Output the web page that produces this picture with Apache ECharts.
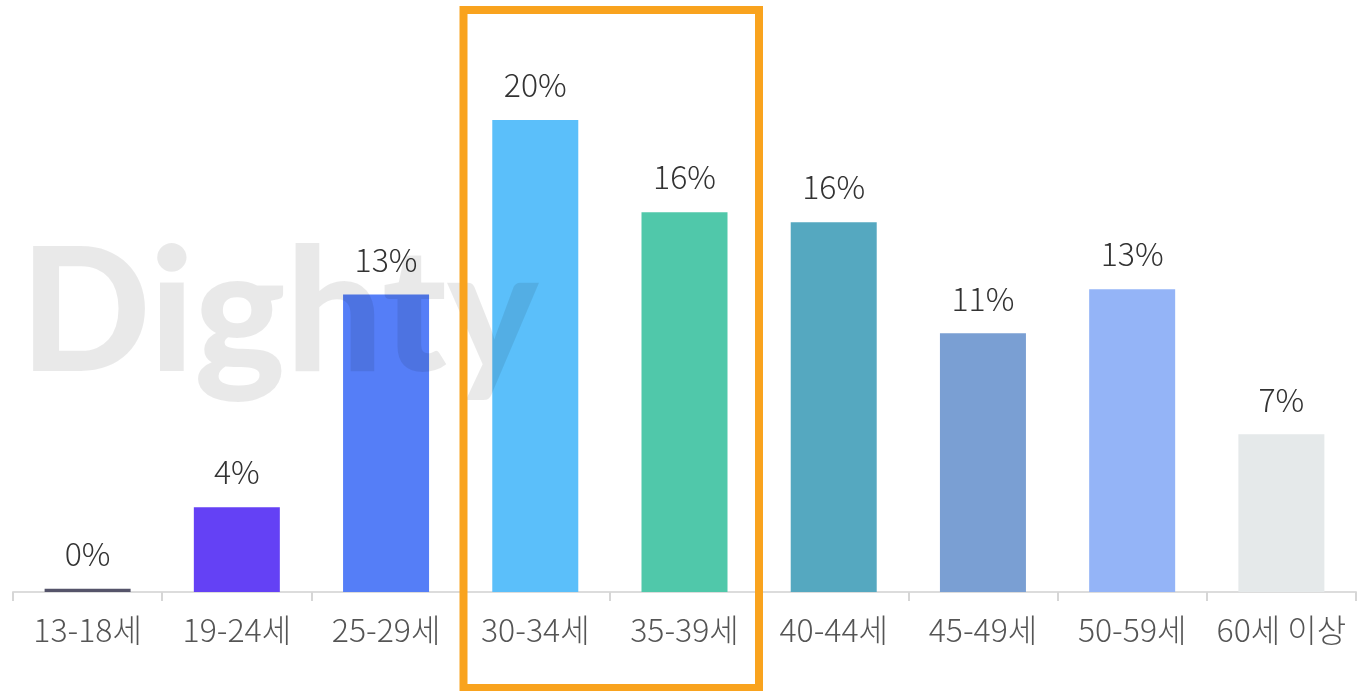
<!DOCTYPE html>
<html><head><meta charset="utf-8">
<script src="https://cdn.jsdelivr.net/npm/echarts@6/dist/echarts.min.js"></script>
<style>html,body{margin:0;padding:0;background:#fff;}#c{width:1368px;height:691px;}</style>
</head><body><div id="c"></div>
<script>
const categories = ['13-18세','19-24세','25-29세','30-34세','35-39세','40-44세','45-49세','50-59세','60세 이상'];
const values = [0.14, 3.59, 12.61, 20.0, 16.09, 15.67, 10.96, 12.83, 6.68];
const barColors = ['#55546A','#6441F5','#557EF7','#5BBFFA','#50C8AA','#55A8C0','#7A9FD3','#94B4F7','#E5E9EA'];

const chart = echarts.init(document.getElementById('c'));
chart.setOption({
  animation:false,
  grid:{left:13,right:12,top:2,bottom:99},
  xAxis:{type:'category',data:categories,
    axisLine:{lineStyle:{color:'#dcdcdc',width:2}},
    axisTick:{show:true,interval:0,length:9,lineStyle:{color:'#d6d6d6',width:2}},
    axisLabel:{interval:0,color:'#555',fontSize:32,fontWeight:300,margin:22,fontFamily:'Noto Sans CJK KR'}},
  yAxis:{type:'value',min:0,max:25,show:false,splitLine:{show:false}},
  series:[{type:'bar',barWidth:86,
    data:values.map((v,i)=>({value:v,itemStyle:{color:barColors[i]}})),
    label:{show:true,position:'top',distance:19,color:'#333',fontSize:32,fontWeight:300,fontFamily:'Noto Sans CJK KR',
      formatter:p=>Math.round(p.value)+'%'}}],
  graphic:[
    {type:'text',z:100,left:20,top:230,style:{text:'Dighty',font:'900 172px Lato',fill:'rgba(0,0,0,0.085)'}},
    {type:'rect',z:110,shape:{x:463.5,y:10,width:295.5,height:678},style:{fill:'none',stroke:'#F9A31E',lineWidth:8}}
  ]
});
</script></body></html>
